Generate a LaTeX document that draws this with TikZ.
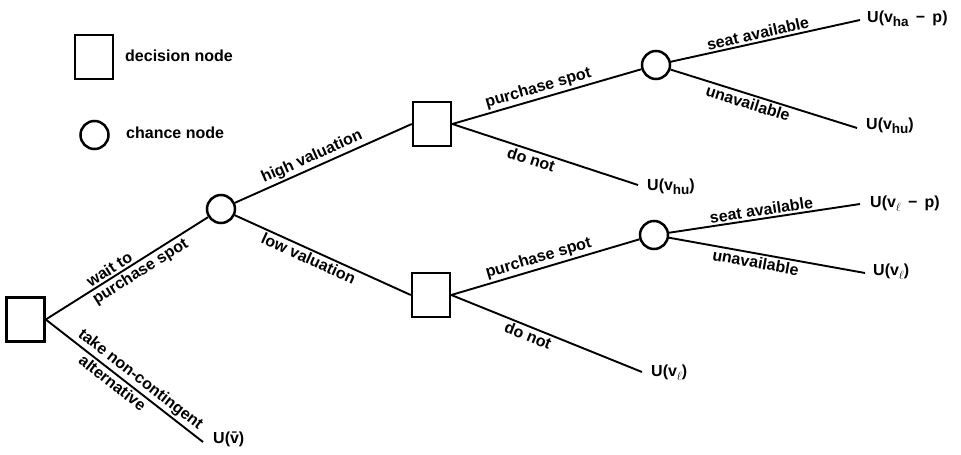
\documentclass[tikz,border=0pt]{standalone}
\usepackage{fontspec}
\newfontfamily\lbl{Liberation Sans}
\newcommand{\lblfont}{\lbl\bfseries\fontsize{16}{18}\selectfont}
\newcommand{\subtx}[1]{\raisebox{-0.45ex}{\fontsize{13.5}{14}\selectfont #1}}
\newcommand{\ellsub}{\raisebox{-0.45ex}{\fontsize{13}{14}\selectfont$\ell$}}
\newcommand{\mn}{\hspace{0.45em}−\hspace{0.45em}}
\begin{document}
\begin{tikzpicture}[x=1pt,y=-1pt,
  dec/.style={draw, line width=2.5pt, minimum width=38pt, minimum height=44pt, inner sep=0pt},
  chc/.style={draw, circle, line width=2.5pt, minimum size=28pt, inner sep=0pt},
  br/.style={line width=1.9pt},
  lab/.style={font=\lblfont, sloped, inner sep=2pt},
  term/.style={anchor=west, font=\lblfont, inner sep=0pt},
  legtxt/.style={anchor=west, font=\lblfont, inner sep=0pt}]
\useasboundingbox (0,0) rectangle (961,455);

% legend
\node[dec] (legD) at (94,57) {};
\node[legtxt] (legDt) at (125,56) {decision node};
\node[chc] (legC) at (94.5,135) {};
\node[legtxt] (legCt) at (126,133) {chance node};

% tree nodes
\node[dec] (root) at (25.5,319.5) {};
\node[chc] (C1) at (221,209) {};
\node[dec] (D1) at (432,124) {};
\node[dec] (D2) at (431,295) {};
\node[chc] (C2) at (656,65) {};
\node[chc] (C3) at (654,235) {};

% terminal points
\coordinate (tV) at (203,442);
\coordinate (tHU1) at (638,185);
\coordinate (tHA) at (860,20);
\coordinate (tHU2) at (857,128);
\coordinate (tL1) at (642,372);
\coordinate (tLP) at (860,204);
\coordinate (tL2) at (865,273);

\node[term] (xV) at (213,439) {U(\={v})};
\node[term] (xHU1) at (647,187) {U(v\subtx{hu})};
\node[term] (xHA) at (867,19) {U(v\subtx{ha}\mn p)};
\node[term] (xHU2) at (866,126) {U(v\subtx{hu})};
\node[term] (xL1) at (651,373) {U(v\ellsub)};
\node[term] (xLP) at (870,204) {U(v\ellsub\mn p)};
\node[term] (xL2) at (873,272) {U(v\ellsub)};

% branches
\draw[br] (root.east) -- node[lab,above,pos=0.42]{wait to} node[lab,below,pos=0.55]{purchase spot} (C1);
\draw[br] (root.east) -- node[lab,above,pos=0.56]{take non-contingent} node[lab,below,pos=0.46]{alternative} (tV);
\draw[br] (C1) -- node[lab,above,pos=0.46]{high valuation} (D1.west);
\draw[br] (C1) -- node[lab,below,pos=0.44]{low valuation} (D2.west);
\draw[br] (D1.east) -- node[lab,above,pos=0.47]{purchase spot} (C2);
\draw[br] (D1.east) -- node[lab,below,pos=0.44]{do not} (tHU1);
\draw[br] (D2.east) -- node[lab,above,pos=0.48]{purchase spot} (C3);
\draw[br] (D2.east) -- node[lab,below,pos=0.42]{do not} (tL1);
\draw[br] (C2) -- node[lab,above,pos=0.47]{seat available} (tHA);
\draw[br] (C2) -- node[lab,below,pos=0.43]{unavailable} (tHU2);
\draw[br] (C3) -- node[lab,above,pos=0.49]{seat available} (tLP);
\draw[br] (C3) -- node[lab,below,pos=0.45]{unavailable} (tL2);
\end{tikzpicture}
\end{document}
